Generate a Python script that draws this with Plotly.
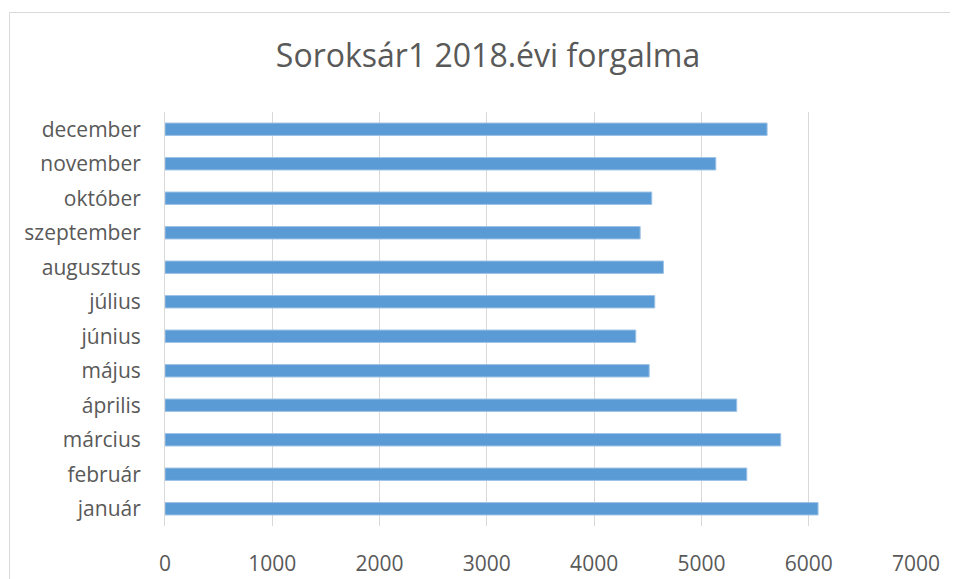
import plotly.graph_objects as go

# havi forgalom (leolvasva)
honapok = ["január", "február", "március", "április", "május", "június",
           "július", "augusztus", "szeptember", "október", "november", "december"]
forgalom = [6087, 5423, 5739, 5329, 4513, 4388,
            4565, 4646, 4429, 4537, 5134, 5612]
x_ticks = [0, 1000, 2000, 3000, 4000, 5000, 6000, 7000]

# the page body has an 8px margin, so the figure is drawn 8px smaller
OFF = 8
W, H = 958 - OFF, 579 - OFF
L, R, T, B = 165 - OFF, 42, 112 - OFF, 53

fig = go.Figure()
fig.add_trace(go.Bar(y=honapok, x=forgalom,
                     orientation="h",
                     width=0.36,
                     marker_color="#5B9BD5",
                     marker_line=dict(color="#9DC3E6", width=1)
                     )
              )

#chart area border (runs off the right and bottom edge)
pw, ph = W - L - R, H - T - B
bx0 = (9.5 - OFF - L) / pw
by1 = (H - B - (12.5 - OFF)) / ph
fig.add_shape(type="line", xref="paper", yref="paper",
              x0=bx0, x1=(W + 5 - L) / pw, y0=by1, y1=by1,
              line=dict(color="#D9D9D9", width=1))
fig.add_shape(type="line", xref="paper", yref="paper",
              x0=bx0, x1=bx0, y0=by1, y1=-0.2,
              line=dict(color="#D9D9D9", width=1))

font_c = "#595959"
fig.update_layout(
    width=W, height=H,
    margin=dict(l=L, r=R, t=T, b=B),
    plot_bgcolor="white", paper_bgcolor="white",
    showlegend=False,
    font=dict(family="Open Sans", color=font_c),
    title={
        'text': "Soroksár1 2018.évi forgalma",
        'font': dict(size=32, color=font_c, family="Open Sans"),
        'x': (488 - OFF) / W,
        'xanchor': 'center',
        'xref': 'container',
        'y': 1 - (56 - OFF) / H,
        'yanchor': 'middle',
        'yref': 'container'})

fig.update_xaxes(range=[0, 7000], tickvals=x_ticks,
                 showgrid=True, gridcolor="#D9D9D9", gridwidth=1,
                 zeroline=False, showline=False, automargin=False,
                 tickfont=dict(size=21, color=font_c),
                 ticks="", ticklabelstandoff=23)
fig.update_yaxes(categoryorder="array", categoryarray=honapok,
                 range=[-0.5, 11.5],
                 showline=True, linecolor="#D9D9D9", linewidth=1,
                 showgrid=False, automargin=False,
                 tickfont=dict(size=21, color=font_c),
                 ticks="", ticklabelstandoff=19)

fig.write_html("out.html")
